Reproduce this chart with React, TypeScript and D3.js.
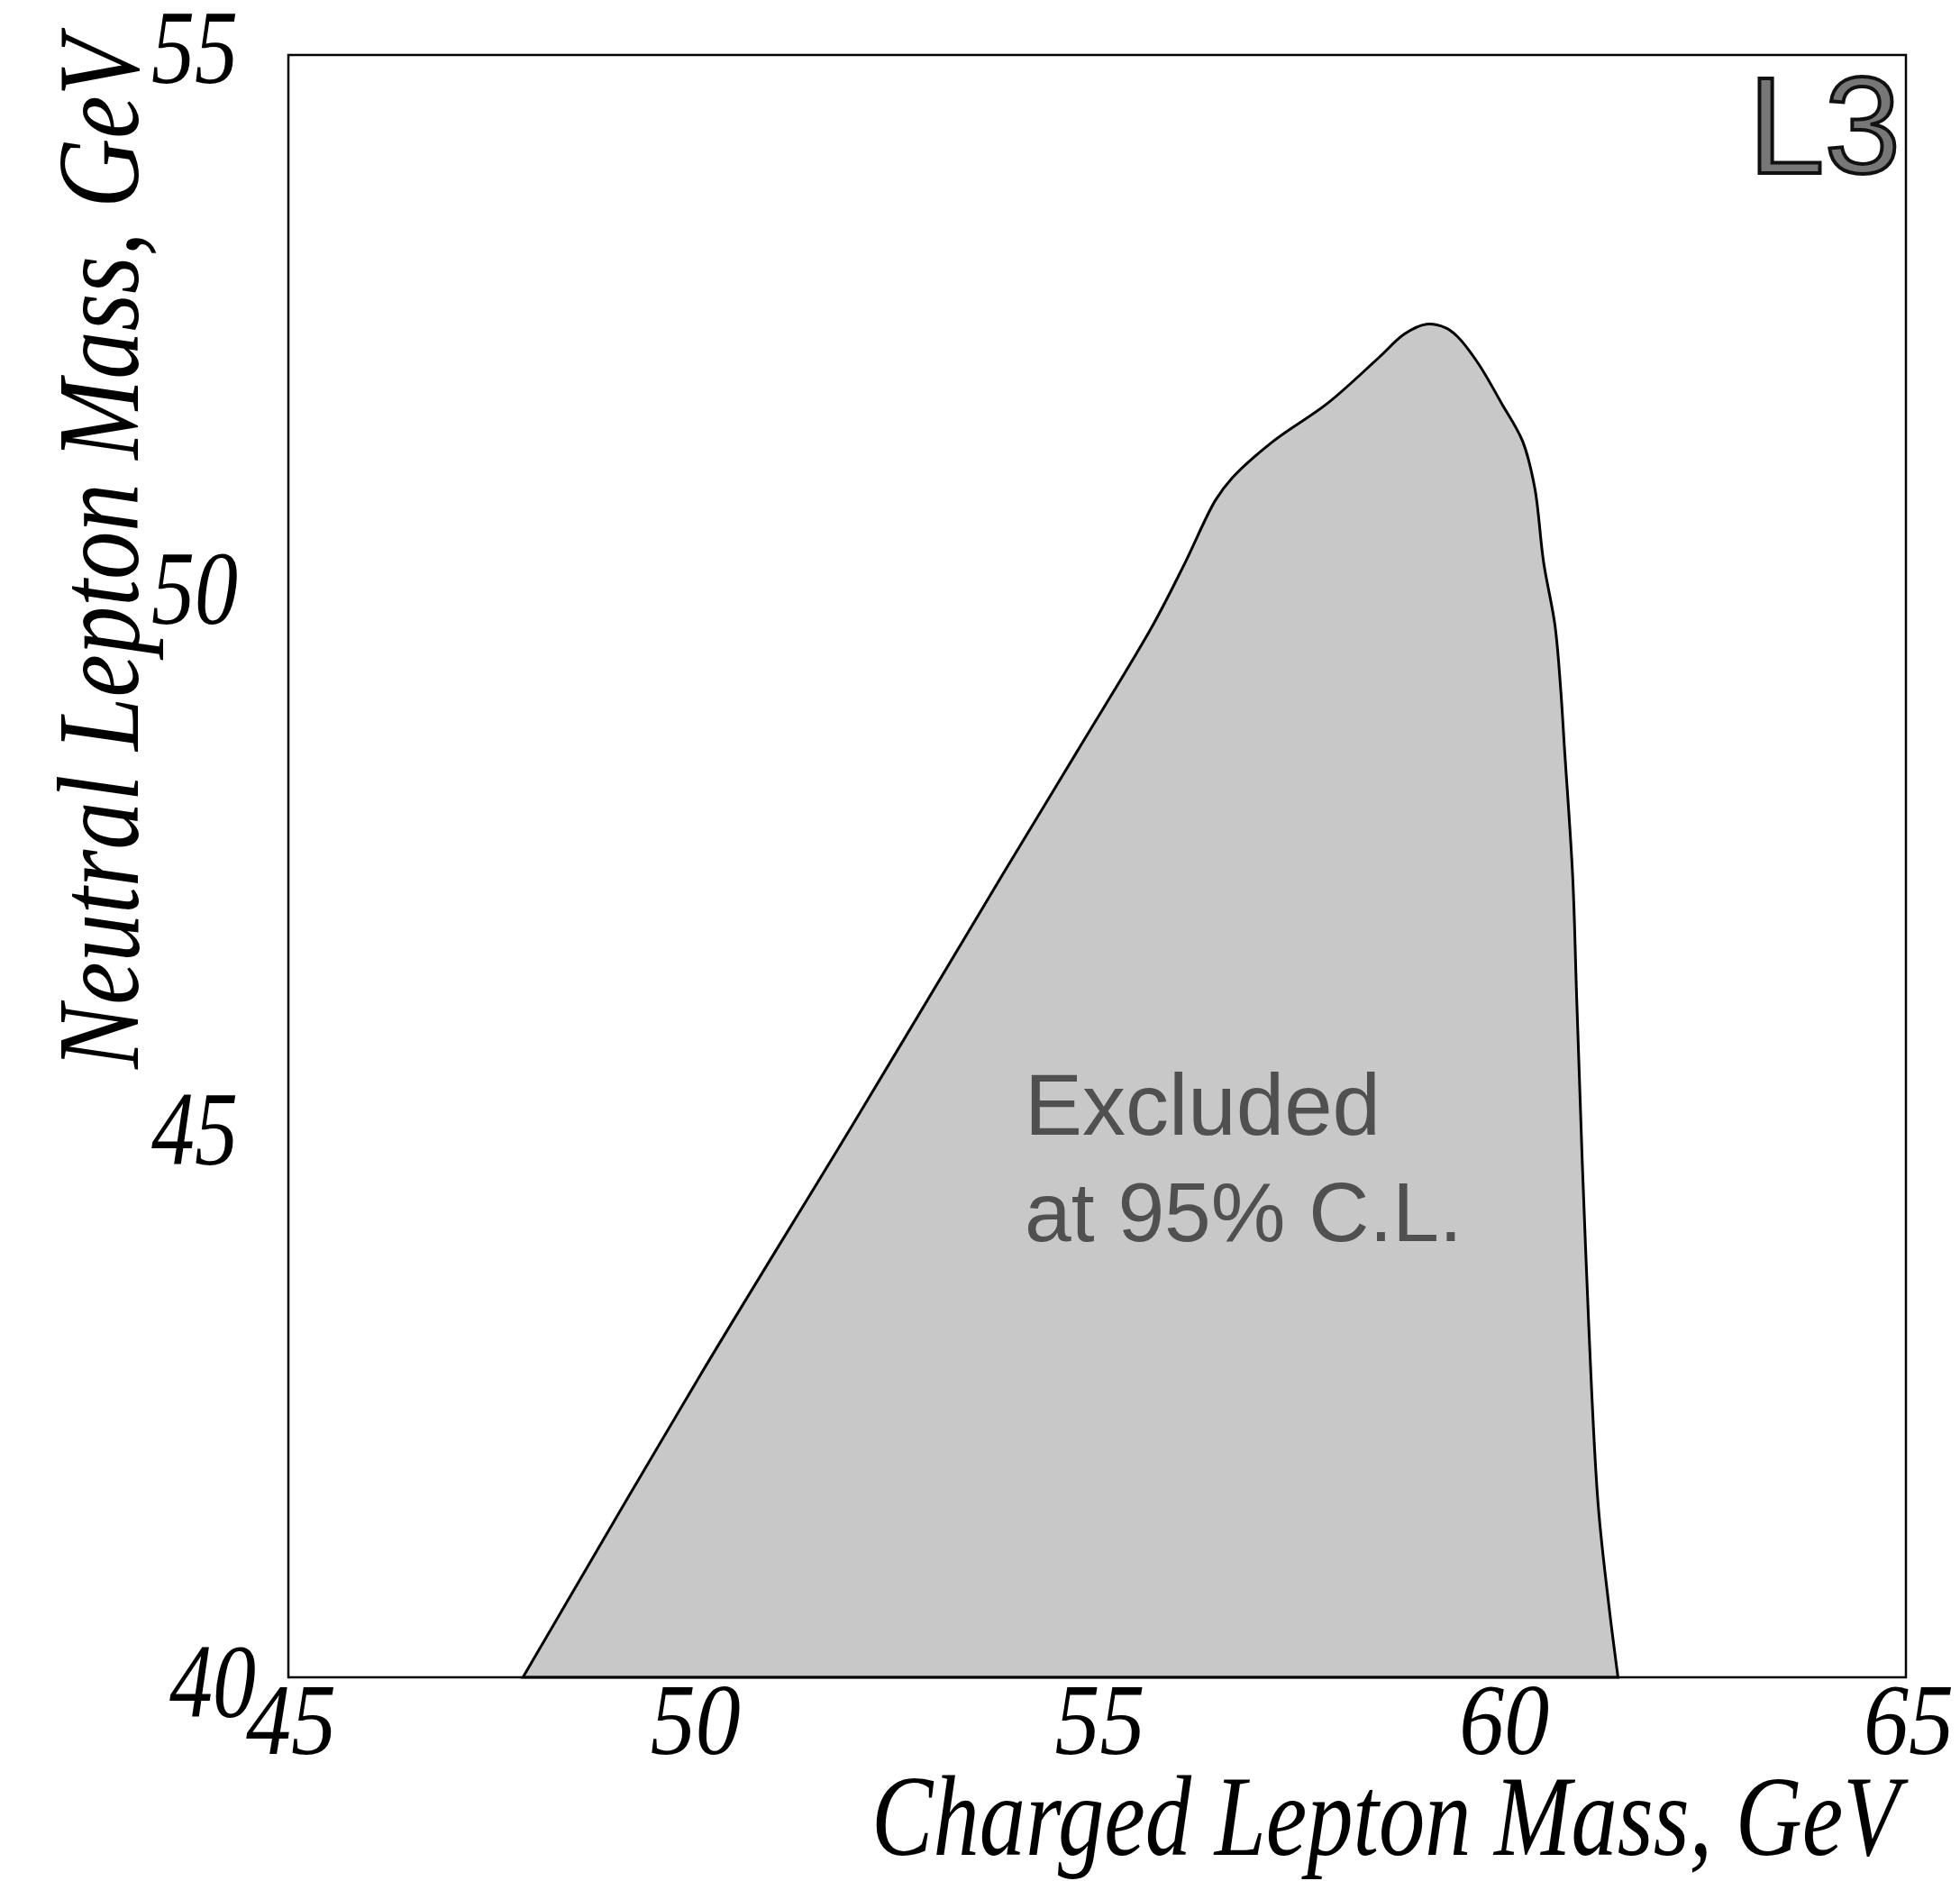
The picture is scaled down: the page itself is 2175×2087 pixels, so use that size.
import * as d3 from 'd3'

// excluded region boundary (charged lepton mass, neutral lepton mass), GeV
const chargedMass = [
  47.9, 50.09, 51.97, 53.83, 54.76, 55.69, 56.09, 56.46, 56.67, 57.18, 57.85,
  58.48, 58.8, 59.07, 59.3, 59.45, 59.71, 60.0, 60.26, 60.41, 60.52, 60.66,
  60.73, 60.78, 60.88, 60.93, 61.04, 61.19, 61.32, 61.44,
]
const neutralMass = [
  40.0, 42.79, 45.1, 47.42, 48.57, 49.73, 50.31, 50.88, 51.09, 51.43, 51.78,
  52.2, 52.42, 52.51, 52.48, 52.4, 52.15, 51.78, 51.43, 51.0, 50.31, 49.73,
  49.15, 48.57, 47.4, 46.26, 43.95, 41.64, 40.71, 40.0,
]

const xTicks = [45, 50, 55, 60, 65]
const yTicks = [40, 45, 50, 55]

const W = 2175
const H = 2087
const left = 320
const right = 2115
const top = 61
const bottom = 1861

const serif = 'Liberation Serif, DejaVu Serif, serif'
const sans = 'Liberation Sans, Arial, sans-serif'

export default function App() {
  const x = d3.scaleLinear([45, 65], [left, right])
  const y = d3.scaleLinear([40, 55], [bottom, top])
  const pts: [number, number][] = chargedMass.map((c, i) => [c, neutralMass[i]])
  const line = d3
    .line<[number, number]>()
    .x((d) => x(d[0]))
    .y((d) => y(d[1]))
    .curve(d3.curveCatmullRom.alpha(0.5))
  const d = (line(pts) || '') + 'Z'

  return (
    <svg
      width={W}
      height={H}
      style={{ position: 'absolute', left: 0, top: 0, background: 'white' }}
    >
      <path d={d} fill="#c8c8c8" stroke="#000" strokeWidth={3} />
      <rect
        x={left}
        y={top}
        width={right - left}
        height={bottom - top}
        fill="none"
        stroke="#000"
        strokeWidth={2.5}
      />
      <text x={1137} y={1259} fontFamily={sans} fontSize={96} fill="#505050">
        Excluded
      </text>
      <text x={1137} y={1377} fontFamily={sans} fontSize={93} fill="#505050">
        at 95% C.L.
      </text>
      <text
        x={1940}
        y={192}
        fontFamily={sans}
        fontSize={152}
        fill="#777"
        stroke="#111"
        strokeWidth={4}
      >
        L3
      </text>
      {xTicks.map((t) => (
        <text
          key={'x' + t}
          x={x(t) + 3}
          y={1946}
          textAnchor="middle"
          fontFamily={serif}
          fontStyle="italic"
          fontSize={112}
          textLength={100}
          lengthAdjust="spacingAndGlyphs"
        >
          {t}
        </text>
      ))}
      {yTicks.map((t) => (
        <text
          key={'y' + t}
          x={t === 40 ? 284 : 264}
          y={y(t) + (t === 40 ? 44 : 31)}
          textAnchor="end"
          fontFamily={serif}
          fontStyle="italic"
          fontSize={116}
          textLength={96}
          lengthAdjust="spacingAndGlyphs"
        >
          {t}
        </text>
      ))}
      <text
        x={2108}
        y={2058}
        textAnchor="end"
        fontFamily={serif}
        fontStyle="italic"
        fontSize={128}
        textLength={1141}
        lengthAdjust="spacingAndGlyphs"
      >
        Charged Lepton Mass, GeV
      </text>
      <text
        transform="translate(153,1186) rotate(-90)"
        fontFamily={serif}
        fontStyle="italic"
        fontSize={130}
        textLength={1145}
        lengthAdjust="spacingAndGlyphs"
      >
        Neutral Lepton Mass, GeV
      </text>
    </svg>
  )
}
